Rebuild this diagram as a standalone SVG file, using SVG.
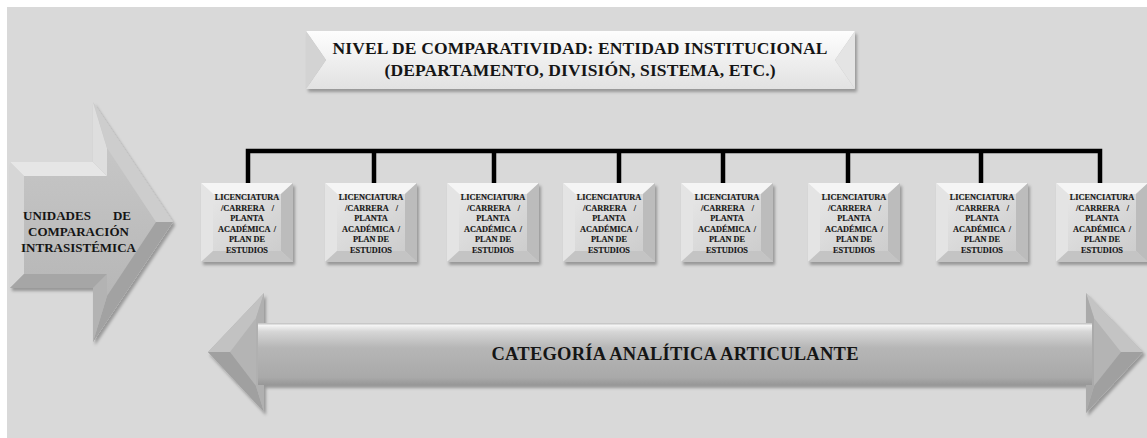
<svg xmlns="http://www.w3.org/2000/svg" xmlns:xlink="http://www.w3.org/1999/xlink" width="1147" height="438" viewBox="0 0 1147 438">
<style>
.t{font-family:"Liberation Serif","Times New Roman",serif;font-weight:bold;fill:#151515}
.bx{font-size:8.3px;stroke:#151515;stroke-width:0.15}
.mid{text-anchor:middle}
.st{text-anchor:start}
.en{text-anchor:end}
.conn{fill:none;stroke:#000;stroke-width:4.5;stroke-linejoin:miter;stroke-linecap:square}
</style>
<defs>
<filter id="sh" x="-10%" y="-10%" width="130%" height="140%">
<feDropShadow dx="2" dy="3" stdDeviation="1.6" flood-color="#000" flood-opacity="0.3"/>
</filter>
<linearGradient id="boxFace" x1="0" y1="0" x2="1" y2="1">
<stop offset="0" stop-color="#e6e6e6"/>
<stop offset="1" stop-color="#cdcdcd"/>
</linearGradient>
<linearGradient id="topFaceA" x1="0" y1="0" x2="0" y2="1">
<stop offset="0" stop-color="#fdfdfd"/>
<stop offset="1" stop-color="#f1f1f1"/>
</linearGradient>
<linearGradient id="topFaceB" x1="0" y1="0" x2="0" y2="1">
<stop offset="0" stop-color="#efefef"/>
<stop offset="1" stop-color="#e2e2e2"/>
</linearGradient>
<linearGradient id="bigFace" x1="0" y1="0" x2="0" y2="1">
<stop offset="0" stop-color="#cbcbcb"/>
<stop offset="1" stop-color="#b2b2b2"/>
</linearGradient>
<linearGradient id="barFace" x1="0" y1="0" x2="0" y2="1">
<stop offset="0" stop-color="#bdbdbd"/>
<stop offset="0.04" stop-color="#f4f4f4"/>
<stop offset="0.14" stop-color="#d6d6d6"/>
<stop offset="0.4" stop-color="#b6b6b6"/>
<stop offset="0.88" stop-color="#a9a9a9"/>
<stop offset="1" stop-color="#979797"/>
</linearGradient>
<g id="boxShape">
<rect x="0" y="0" width="92" height="79" fill="url(#boxFace)"/>
<polygon points="0,0 92,0 80,11 12,11" fill="#f5f5f5"/>
<polygon points="0,0 12,11 12,68 0,79" fill="#e4e4e4"/>
<polygon points="92,0 92,79 80,68 80,11" fill="#bcbcbc"/>
<polygon points="0,79 12,68 80,68 92,79" fill="#c4c4c4"/>
<rect x="12" y="11" width="68" height="57" fill="url(#boxFace)"/>
</g>
</defs>

<rect x="0" y="0" width="1147" height="438" fill="#ffffff"/>
<rect x="7" y="7" width="1140" height="431" fill="#d9d9d9"/>

<g id="units-arrow">
<g filter="url(#sh)">
<polygon points="10,162 93,162 93,102 173,222 93,342 93,288 10,288" fill="url(#bigFace)"/>
<polygon points="10,162 24,176 24,274 10,288" fill="#d6d6d6"/>
<polygon points="10,162 93,162 107,176 24,176" fill="#e6e6e6"/>
<polygon points="93,162 93,102 107,148 107,176" fill="#dedede"/>
<polygon points="93,102 173,222 156,222 107,148" fill="#cdcdcd"/>
<polygon points="173,222 93,342 107,296 156,222" fill="#a2a2a2"/>
<polygon points="93,342 93,288 107,274 107,296" fill="#b3b3b3"/>
<polygon points="93,288 10,288 24,274 107,274" fill="#a6a6a6"/>
</g>
<text class="t" style="font-size:13px" y="220"><tspan class="st" x="23">UNIDADES</tspan><tspan class="en" x="131"> DE</tspan></text>
<text class="t mid" style="font-size:13px" x="78.5" y="236">COMPARACIÓN</text>
<text class="t mid" style="font-size:13px" x="78.5" y="252">INTRASISTÉMICA</text>
</g>

<g id="nivel">
<g filter="url(#sh)">
<polygon points="306,31 855,31 835,60 326,60" fill="url(#topFaceA)"/>
<polygon points="306,89 855,89 835,60 326,60" fill="url(#topFaceB)"/>
<polygon points="306,31 326,60 306,89" fill="#d3d3d3"/>
<polygon points="855,31 835,60 855,89" fill="#e4e4e4"/>
</g>
<text class="t mid" style="font-size:17.5px" x="580" y="54" textLength="495" lengthAdjust="spacing">NIVEL DE COMPARATIVIDAD: ENTIDAD INSTITUCIONAL</text>
<text class="t mid" style="font-size:17.5px" x="580" y="76" textLength="391" lengthAdjust="spacing">(DEPARTAMENTO, DIVISIÓN, SISTEMA, ETC.)</text>
</g>

<g id="connectors">
<path class="conn" d="M248,181 V151 H1100 V181 M374,151 V181 M494,151 V181 M619,151 V181 M723,151 V181 M848,151 V181 M981,151 V181"/>
</g>

<g id="unit1" transform="translate(201,183)">
<use xlink:href="#boxShape" filter="url(#sh)"/>
<text class="t bx mid" x="46" y="17">LICENCIATURA</text>
<text class="t bx" y="27.5"><tspan class="st" x="20">/CARRERA </tspan><tspan class="en" x="73">/</tspan></text>
<text class="t bx mid" x="46" y="38">PLANTA</text>
<text class="t bx" y="48.5"><tspan class="st" x="17">ACADÉMICA </tspan><tspan class="en" x="75">/</tspan></text>
<text class="t bx mid" x="46" y="59">PLAN DE</text>
<text class="t bx mid" x="46" y="69.5">ESTUDIOS</text>
</g>
<g id="unit2" transform="translate(325,183)">
<use xlink:href="#boxShape" filter="url(#sh)"/>
<text class="t bx mid" x="46" y="17">LICENCIATURA</text>
<text class="t bx" y="27.5"><tspan class="st" x="20">/CARRERA </tspan><tspan class="en" x="73">/</tspan></text>
<text class="t bx mid" x="46" y="38">PLANTA</text>
<text class="t bx" y="48.5"><tspan class="st" x="17">ACADÉMICA </tspan><tspan class="en" x="75">/</tspan></text>
<text class="t bx mid" x="46" y="59">PLAN DE</text>
<text class="t bx mid" x="46" y="69.5">ESTUDIOS</text>
</g>
<g id="unit3" transform="translate(447,183)">
<use xlink:href="#boxShape" filter="url(#sh)"/>
<text class="t bx mid" x="46" y="17">LICENCIATURA</text>
<text class="t bx" y="27.5"><tspan class="st" x="20">/CARRERA </tspan><tspan class="en" x="73">/</tspan></text>
<text class="t bx mid" x="46" y="38">PLANTA</text>
<text class="t bx" y="48.5"><tspan class="st" x="17">ACADÉMICA </tspan><tspan class="en" x="75">/</tspan></text>
<text class="t bx mid" x="46" y="59">PLAN DE</text>
<text class="t bx mid" x="46" y="69.5">ESTUDIOS</text>
</g>
<g id="unit4" transform="translate(563,183)">
<use xlink:href="#boxShape" filter="url(#sh)"/>
<text class="t bx mid" x="46" y="17">LICENCIATURA</text>
<text class="t bx" y="27.5"><tspan class="st" x="20">/CARRERA </tspan><tspan class="en" x="73">/</tspan></text>
<text class="t bx mid" x="46" y="38">PLANTA</text>
<text class="t bx" y="48.5"><tspan class="st" x="17">ACADÉMICA </tspan><tspan class="en" x="75">/</tspan></text>
<text class="t bx mid" x="46" y="59">PLAN DE</text>
<text class="t bx mid" x="46" y="69.5">ESTUDIOS</text>
</g>
<g id="unit5" transform="translate(681,183)">
<use xlink:href="#boxShape" filter="url(#sh)"/>
<text class="t bx mid" x="46" y="17">LICENCIATURA</text>
<text class="t bx" y="27.5"><tspan class="st" x="20">/CARRERA </tspan><tspan class="en" x="73">/</tspan></text>
<text class="t bx mid" x="46" y="38">PLANTA</text>
<text class="t bx" y="48.5"><tspan class="st" x="17">ACADÉMICA </tspan><tspan class="en" x="75">/</tspan></text>
<text class="t bx mid" x="46" y="59">PLAN DE</text>
<text class="t bx mid" x="46" y="69.5">ESTUDIOS</text>
</g>
<g id="unit6" transform="translate(808,183)">
<use xlink:href="#boxShape" filter="url(#sh)"/>
<text class="t bx mid" x="46" y="17">LICENCIATURA</text>
<text class="t bx" y="27.5"><tspan class="st" x="20">/CARRERA </tspan><tspan class="en" x="73">/</tspan></text>
<text class="t bx mid" x="46" y="38">PLANTA</text>
<text class="t bx" y="48.5"><tspan class="st" x="17">ACADÉMICA </tspan><tspan class="en" x="75">/</tspan></text>
<text class="t bx mid" x="46" y="59">PLAN DE</text>
<text class="t bx mid" x="46" y="69.5">ESTUDIOS</text>
</g>
<g id="unit7" transform="translate(936,183)">
<use xlink:href="#boxShape" filter="url(#sh)"/>
<text class="t bx mid" x="46" y="17">LICENCIATURA</text>
<text class="t bx" y="27.5"><tspan class="st" x="20">/CARRERA </tspan><tspan class="en" x="73">/</tspan></text>
<text class="t bx mid" x="46" y="38">PLANTA</text>
<text class="t bx" y="48.5"><tspan class="st" x="17">ACADÉMICA </tspan><tspan class="en" x="75">/</tspan></text>
<text class="t bx mid" x="46" y="59">PLAN DE</text>
<text class="t bx mid" x="46" y="69.5">ESTUDIOS</text>
</g>
<g id="unit8" transform="translate(1056,183)">
<use xlink:href="#boxShape" filter="url(#sh)"/>
<text class="t bx mid" x="46" y="17">LICENCIATURA</text>
<text class="t bx" y="27.5"><tspan class="st" x="20">/CARRERA </tspan><tspan class="en" x="73">/</tspan></text>
<text class="t bx mid" x="46" y="38">PLANTA</text>
<text class="t bx" y="48.5"><tspan class="st" x="17">ACADÉMICA </tspan><tspan class="en" x="75">/</tspan></text>
<text class="t bx mid" x="46" y="59">PLAN DE</text>
<text class="t bx mid" x="46" y="69.5">ESTUDIOS</text>
</g>

<g id="categoria-arrow">
<g filter="url(#sh)">
<polygon points="208,352 264,293 264,412" fill="#b4b4b4"/>
<polygon points="208,352 264,293 256,318 230,352" fill="#c2c2c2"/>
<polygon points="208,352 230,352 256,386 264,412" fill="#a0a0a0"/>
<polygon points="264,293 264,412 256,386 256,318" fill="#b0b0b0"/>
<polygon points="1143,352 1086,293 1086,413" fill="#b4b4b4"/>
<polygon points="1143,352 1086,293 1094,318 1121,352" fill="#c4c4c4"/>
<polygon points="1143,352 1121,352 1094,386 1086,413" fill="#a0a0a0"/>
<polygon points="1086,293 1086,413 1094,386 1094,318" fill="#aaaaaa"/>
<rect x="258" y="323" width="834" height="62" fill="url(#barFace)"/>
</g>
<text class="t mid" style="font-size:18.5px" x="675" y="360" textLength="367" lengthAdjust="spacing">CATEGORÍA ANALÍTICA ARTICULANTE</text>
</g>
</svg>
